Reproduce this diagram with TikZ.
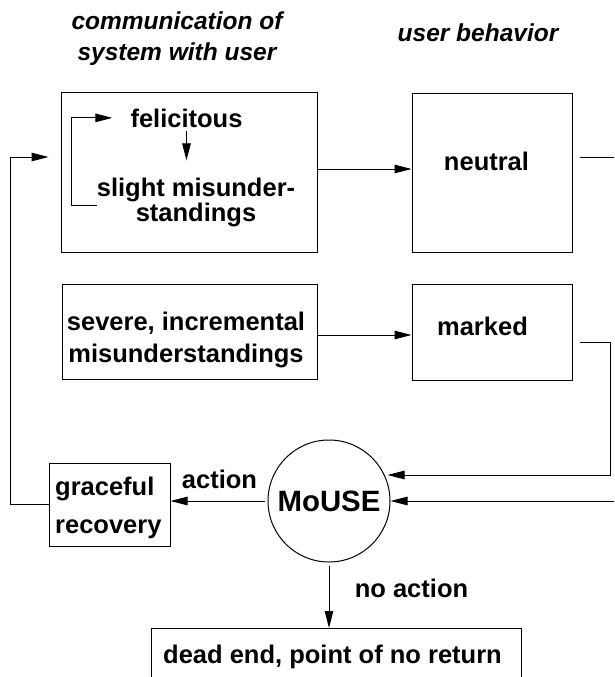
\documentclass[tikz,border=0pt]{standalone}
\usepackage{fontspec}
\setmainfont{Liberation Sans}
\usetikzlibrary{arrows.meta,calc}

\tikzset{
  box/.style={draw, line width=1pt, inner sep=0pt},
  txt/.style={inner sep=0pt, anchor=base, font=\bfseries\fontsize{25.5}{30}\selectfont},
  head/.style={inner sep=0pt, anchor=base, font=\bfseries\itshape\fontsize{24.5}{31}\selectfont},
  arr/.style={line width=1pt, -{Triangle[length=17pt,width=8.5pt]}}
}

\begin{document}
\begin{tikzpicture}[x=1pt,y=-1pt]

\useasboundingbox (0,0) rectangle (614,677);
\clip (0,0) rectangle (614,677);

	% headings
	\node[head, align=center] (colcomm) at (177,60) {communication of\\system with user};
	\node[head] (colbeh) at (478,42) {user behavior};

	% boxes
	\node[box, minimum width=256pt, minimum height=160pt] (comm) at (189,172) {};
	\node[box, minimum width=160pt, minimum height=159pt] (neutral) at (492,172.5) {};
	\node[box, minimum width=255pt, minimum height=95pt] (severe) at (189.5,331.5) {};
	\node[box, minimum width=160pt, minimum height=96pt] (marked) at (492,332) {};
	\node[box, minimum width=121pt, minimum height=83pt] (grace) at (109.5,504.5) {};
	\node[box, circle, minimum size=122pt, font=\bfseries\fontsize{29.4}{32}\selectfont] (mouse) at (329,501) {MoUSE};
	\node[box, minimum width=370pt, minimum height=80pt, anchor=north] (dead) at (336,628) {};

	% texts
	\node[txt] (fel) at (186.5,127) {felicitous};
	\node[txt, align=center, font=\bfseries\fontsize{25.5}{22}\selectfont] (slight) at (196,221) {slight misunder-\\standings};
	\node[txt] (neu) at (486.5,170) {neutral};
	\node[txt, align=center, font=\bfseries\fontsize{25.5}{32}\selectfont] (sev) at (186,362) {severe, incremental\\misunderstandings};
	\node[txt] (mark) at (482.5,335) {marked};
	\node[txt, align=left, anchor=base west, font=\bfseries\fontsize{25.5}{38}\selectfont] (gr) at (55,533) {graceful\\recovery};
	\node[txt] (act) at (219.5,488) {action};
	\node[txt] (noact) at (411.5,597) {no action};
	\node[txt] (deadtxt) at (332.5,663) {dead end, point of no return};

	% connectors
	\draw[arr, shorten <=4pt, shorten >=17pt] (fel.south) -- (fel.south |- slight.north);
	\draw[arr] ($(slight.west)+(0,3.5)$) -- ++(-25,0) |- ($(fel.west)+(-18,0)$);
	\draw[arr] ($(comm.east)+(0,-3)$) -- ($(comm.east -| neutral.west)+(0,-3)$);
	\draw[arr] ($(severe.east)+(0,3.5)$) -- ($(severe.east -| marked.west)+(0,3.5)$);
	\draw[arr] ($(neutral.east)+(7,-15.5)$) -- ++(41,0) |- (mouse.east);
	\draw[arr] ($(marked.east)+(7,10)$) -- ++(31,0) |- ($(mouse.east)+(-3,-26)$);
	\draw[arr, shorten <=3pt] (mouse.west) -- (mouse.west -| grace.east);
	\draw[arr] (grace.west) -- ++(-38,0) |- ($(comm.west)+(-12,-15)$);
	\draw[arr, shorten <=3pt] (mouse.south) -- (mouse.south |- dead.north);

\end{tikzpicture}
\end{document}
